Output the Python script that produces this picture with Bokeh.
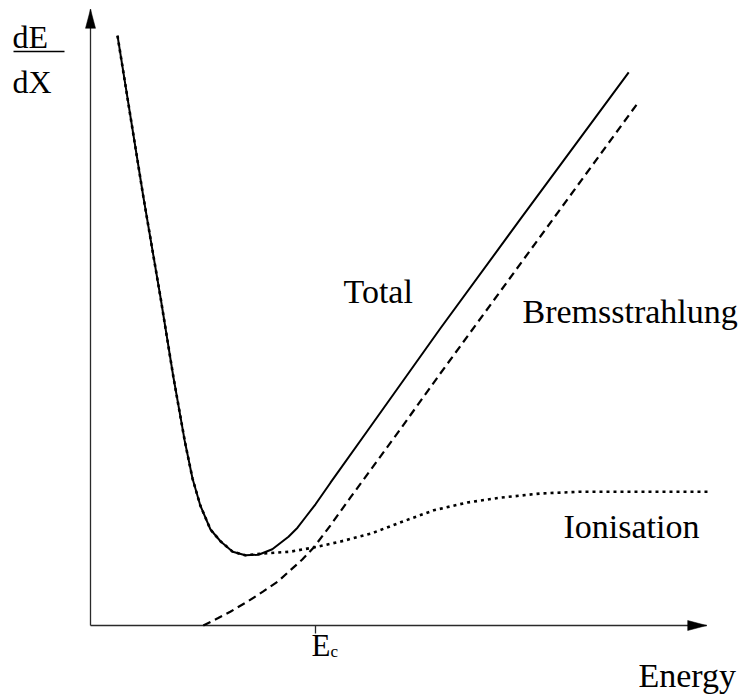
from bokeh.plotting import figure
from bokeh.models import Range1d
from bokeh.core.properties import value
from bokeh.embed import file_html
from bokeh.resources import INLINE

# ---- data (energy units, dE/dX units) ----
total_x = [0.45, 0.88, 1.17, 1.38, 1.57, 1.70, 1.83, 2.00, 2.17, 2.37,
           2.58, 2.80, 3.03, 3.30, 3.45, 3.58, 3.75, 4.00, 4.62, 5.83,
           7.17, 8.97]
total_y = [9.83, 7.15, 5.45, 4.15, 3.08, 2.45, 2.00, 1.60, 1.40, 1.23,
           1.17, 1.18, 1.27, 1.48, 1.63, 1.80, 2.02, 2.38, 3.25, 4.95,
           6.78, 9.22]

ion_x = [0.45, 0.88, 1.17, 1.38, 1.57, 1.70, 1.83, 2.00, 2.17, 2.37,
         2.58, 2.87, 3.33, 3.72, 4.17, 4.67, 5.17, 5.72, 6.28, 6.83,
         7.50, 8.17, 9.17, 10.30]
ion_y = [9.83, 7.15, 5.45, 4.15, 3.08, 2.45, 2.00, 1.60, 1.40, 1.23,
         1.17, 1.20, 1.23, 1.30, 1.40, 1.53, 1.72, 1.92, 2.05, 2.13,
         2.20, 2.23, 2.23, 2.23]

brems_x = [1.88, 2.12, 2.33, 2.62, 2.88, 3.12, 3.33, 3.53, 3.72, 4.00,
           4.33, 5.17, 5.83, 9.13]
brems_y = [0.00, 0.12, 0.23, 0.40, 0.57, 0.73, 0.92, 1.10, 1.30, 1.67,
           2.13, 3.28, 4.20, 8.72]

axis_max = [10.27, 10.27]     # x-axis end, y-axis end
critical_energy = [3.75]      # E_c

labels = ["Total", "Bremsstrahlung", "Ionisation"]

# ---- figure (1 unit = 60 px, origin 90 px from left, 625 px from top) ----
UNIT = 60.0
W_PX, H_PX = 741, 694
OX, OY = 90, 625
p = figure(width=W_PX, height=H_PX, output_backend="svg", toolbar_location=None,
           x_range=Range1d(-OX / UNIT, (W_PX - OX) / UNIT),
           y_range=Range1d((OY - H_PX) / UNIT, OY / UNIT),
           x_axis_type=None, y_axis_type=None, min_border=0)
p.outline_line_color = None
p.xgrid.visible = False
p.ygrid.visible = False
p.background_fill_color = "white"

def px(x):   # pixel offset -> data units (horizontal)
    return (x - OX) / UNIT

def py(y):   # pixel offset -> data units (vertical)
    return (OY - y) / UNIT

ax_col = "#2a2a2a"
# axes
p.line([0, axis_max[0]], [0, 0], line_color=ax_col, line_width=1.3)
p.line([0, 0], [0, axis_max[1]], line_color=ax_col, line_width=1.3)
L, W = 19 / UNIT, 10 / UNIT
p.patch([axis_max[0], axis_max[0] - L, axis_max[0] - L],
        [0, W / 2, -W / 2], color="black", line_width=0.5)
p.patch([0, -W / 2, W / 2],
        [axis_max[1], axis_max[1] - L, axis_max[1] - L], color="black", line_width=0.5)

# E_c tick
p.line([critical_energy[0], critical_energy[0]], [0, -8 / UNIT], line_color=ax_col, line_width=1.3)

# curves
p.line(ion_x, ion_y, line_color="black", line_width=2.6, line_dash="3 4")
p.line(brems_x, brems_y, line_color="black", line_width=2.2, line_dash="8 5")
p.line(total_x, total_y, line_color="black", line_width=2)

font = value("Liberation Serif")
def txt(x_px, base_px, s, size):
    # anchor at the middle of the capital height above the baseline
    p.text([px(x_px)], [py(base_px - 0.33 * size)], text=[s], text_font=font,
           text_font_size=f"{size}px", text_color="black",
           text_align="left", text_baseline="middle")

txt(343, 302, labels[0], 34)
txt(522, 322, labels[1], 34)
txt(563, 537, labels[2], 34)
txt(638, 686, "Energy", 34)

# E_c label
txt(311, 655, "E", 31)
txt(330, 657, "c", 17)

# dE/dX
txt(12, 47, "dE", 32)
txt(12, 92, "dX", 32)
p.line([px(13), px(64)], [py(51), py(51)], line_color="black", line_width=1.5)

open("out.html", "w").write(file_html(p, INLINE))
